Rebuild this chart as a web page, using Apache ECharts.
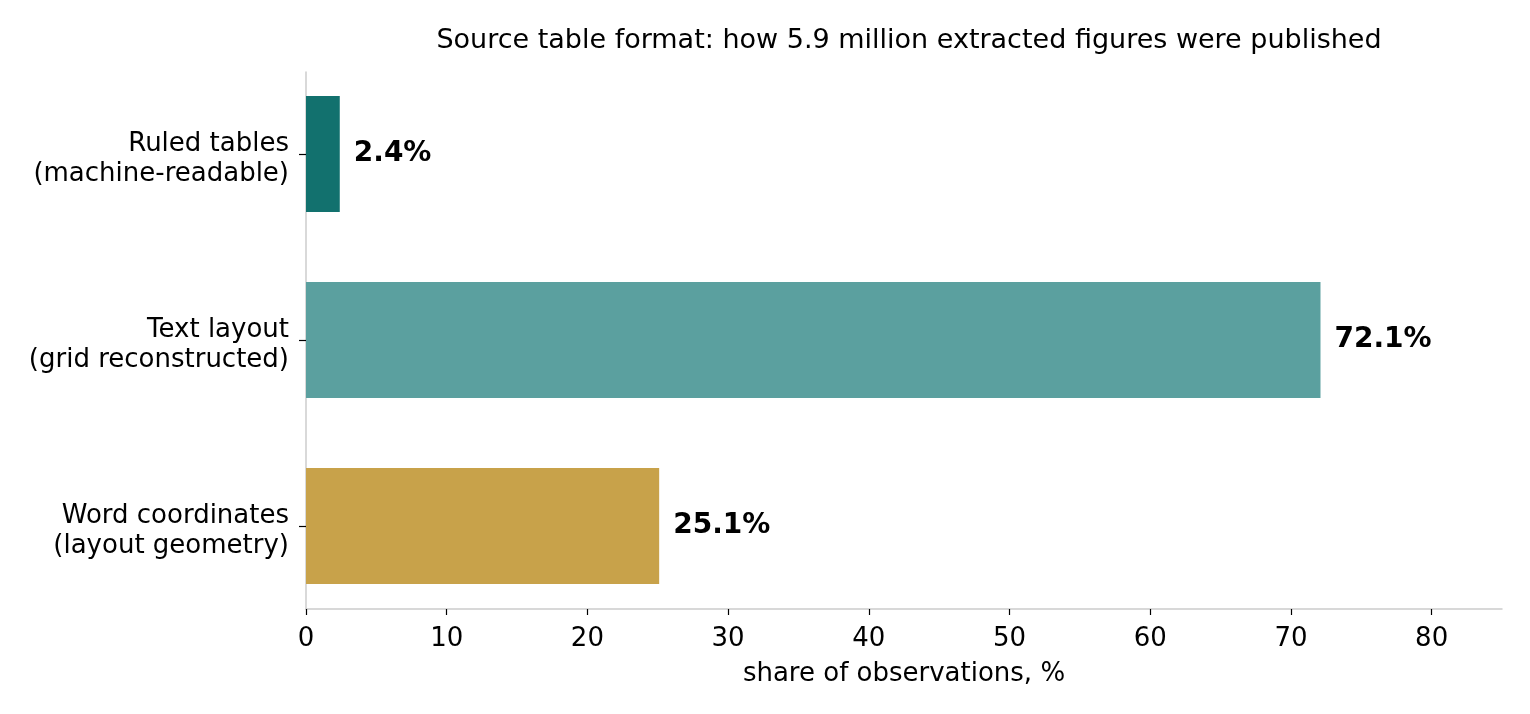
<!DOCTYPE html>
<html>
<head>
<meta charset="utf-8">
<script src="https://cdn.jsdelivr.net/npm/echarts@6/dist/echarts.min.js"></script>
<style>
  html, body { margin: 0; padding: 0; background: #fff; }
  #chart { width: 1530px; height: 714px; }
</style>
</head>
<body>
<div id="chart"></div>
<script>
const categories = [
  'Ruled tables\n(machine-readable)',
  'Text layout\n(grid reconstructed)',
  'Word coordinates\n(layout geometry)'
];
const shares = [2.4, 72.1, 25.1];
const barColors = ['#12716e', '#5ba09f', '#c8a24a'];
const xTicks = [0, 10, 20, 30, 40, 50, 60, 70, 80];

const font = '"DejaVu Sans"';
const chart = echarts.init(document.getElementById('chart'));

chart.setOption({
  animation: false,
  backgroundColor: '#ffffff',
  title: {
    text: 'Source table format: how 5.9 million extracted figures were published',
    left: 904,
    top: 22,
    textAlign: 'center',
    textStyle: { fontFamily: font, fontSize: 27, fontWeight: 'normal', color: '#000' }
  },
  grid: [
    // bars: bands of 186px centred on the category rows
    { left: 306, right: 28, top: 61, height: 558 },
    // spines and x ticks
    { left: 306, right: 28, top: 72, bottom: 105 }
  ],
  xAxis: [
    { gridIndex: 0, type: 'value', min: 0, max: 85, show: false },
    {
      gridIndex: 1, type: 'value', min: 0, max: 85,
      name: 'share of observations, %',
      nameLocation: 'middle',
      nameGap: 52,
      nameTextStyle: { fontFamily: font, fontSize: 26, color: '#000' },
      axisLine: { show: true, lineStyle: { color: '#cccccc', width: 1.5 } },
      axisTick: { show: true, length: 6, customValues: xTicks, lineStyle: { color: '#000', width: 1.2 } },
      axisLabel: { customValues: xTicks, margin: 17, fontFamily: font, fontSize: 26, color: '#000' },
      splitLine: { show: false }
    }
  ],
  yAxis: [
    {
      gridIndex: 0, type: 'category', inverse: true, data: categories,
      axisLine: { show: false },
      axisTick: { show: true, alignWithLabel: true, length: 7, lineStyle: { color: '#000', width: 1.2 } },
      axisLabel: {
        margin: 17, color: '#000', align: 'right',
        formatter: v => '{t|' + v.split('\n').join('}\n{t|') + '}',
        rich: { t: { fontFamily: font, fontSize: 26, lineHeight: 30, color: '#000', padding: [10, 0, 0, 0] } }
      },
      splitLine: { show: false }
    },
    {
      gridIndex: 1, type: 'value', min: 0, max: 1,
      axisLine: { show: true, lineStyle: { color: '#cccccc', width: 1.5 } },
      axisTick: { show: false },
      axisLabel: { show: false },
      splitLine: { show: false }
    }
  ],
  series: [
    {
      type: 'bar',
      xAxisIndex: 0,
      yAxisIndex: 0,
      barWidth: 116,
      data: shares.map((v, i) => ({ value: v, itemStyle: { color: barColors[i] } })),
      label: {
        show: true,
        position: 'right',
        distance: 14,
        formatter: p => p.value.toFixed(1) + '%',
        fontFamily: font,
        fontSize: 28,
        fontWeight: 'bold',
        color: '#000'
      }
    }
  ]
});
</script>
</body>
</html>
